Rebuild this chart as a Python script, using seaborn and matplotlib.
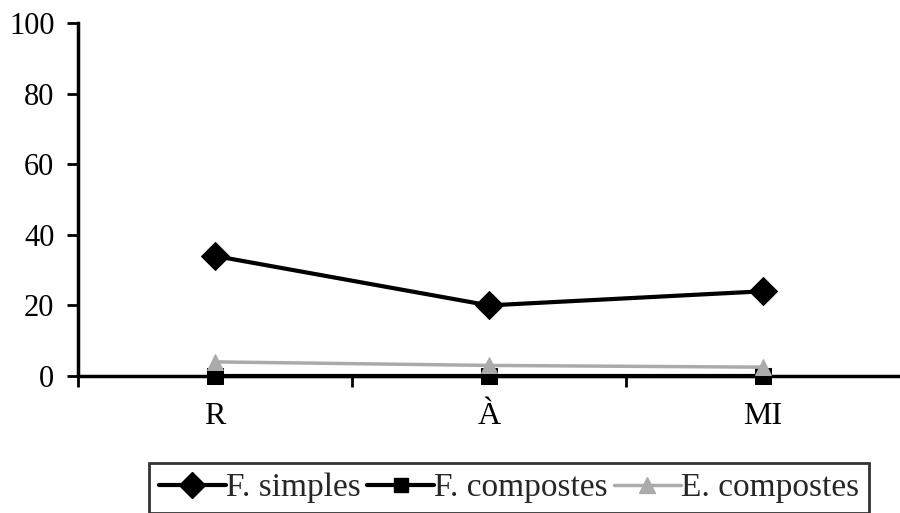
import matplotlib
matplotlib.use("Agg")
import matplotlib.pyplot as plt
import seaborn as sns
import pandas as pd
from matplotlib.lines import Line2D

categories = ["R", "À", "MI"]
f_simples = [34, 20, 24]
f_compostes = [0, 0, 0]
e_compostes = [4, 3, 2.5]
series_names = ["F. simples", "F. compostes", "E. compostes"]
y_ticks = [0, 20, 40, 60, 80, 100]

sns.set_theme(style="white")
plt.rcParams['font.family'] = ['Liberation Serif', 'DejaVu Serif']

rows = []
for name, vals in zip(series_names, [f_simples, f_compostes, e_compostes]):
    for i, (c, v) in enumerate(zip(categories, vals)):
        rows.append({"pos": i, "cat": c, "value": v, "series": name})
df = pd.DataFrame(rows)

fig = plt.figure(figsize=(9, 5.13), dpi=100)
ax = fig.add_axes([78/900, 1-376/513, 1-78/900, (376-23)/513])

palette = {"F. simples": "black", "F. compostes": "black", "E. compostes": "#ababab"}
markers = {"F. simples": "D", "F. compostes": "s", "E. compostes": "^"}
sizes = {"F. simples": 14, "F. compostes": 11, "E. compostes": 12}
widths = {"F. simples": 3, "F. compostes": 3, "E. compostes": 2.5}
sns.lineplot(data=df, x="pos", y="value", hue="series", style="series",
             markers=markers, dashes=False, palette=palette, ax=ax,
             hue_order=series_names, style_order=series_names,
             legend=False)
for line, n in zip(ax.lines, series_names):
    line.set_linewidth(widths[n])
    line.set_markersize(sizes[n])
    line.set_markeredgecolor(line.get_color())
    line.set_clip_on(False)
ax.lines[2].set_zorder(3)

ax.set_xlim(-0.5, 2.5)
ax.set_ylim(0, 100)
ax.set_xticks(range(len(categories)))
ax.set_xticklabels(categories)
ax.set_xticks([-0.5, 0.5, 1.5], minor=True)
ax.set_yticks(y_ticks)
ax.tick_params(axis="x", which="major", length=0, pad=19, labelsize=23, colors="black")
ax.tick_params(axis="x", which="minor", length=8, width=2, direction="out", bottom=True, color="black")
ax.tick_params(axis="y", length=8, width=2, direction="out", left=True, labelsize=22, pad=9, colors="black")
ax.set_xlabel("")
ax.set_ylabel("")
for s in ["top", "right"]:
    ax.spines[s].set_visible(False)
for s in ["left", "bottom"]:
    ax.spines[s].set_linewidth(2.5)
    ax.spines[s].set_color("black")

handles = [Line2D([], [], color=palette[n], marker=markers[n], lw=widths[n],
                  markersize=sizes[n] - 1, markeredgecolor=palette[n]) for n in series_names]
leg = fig.legend(handles, series_names, loc="center", bbox_to_anchor=(509/900, 1-488/513),
                 ncol=3, frameon=True, fancybox=False, fontsize=24, handlelength=2.0,
                 handletextpad=0.0, columnspacing=0.2, borderpad=0.3, borderaxespad=0,
                 edgecolor="black")
leg.get_frame().set_linewidth(2)

fig.savefig("out.png", dpi=100)
